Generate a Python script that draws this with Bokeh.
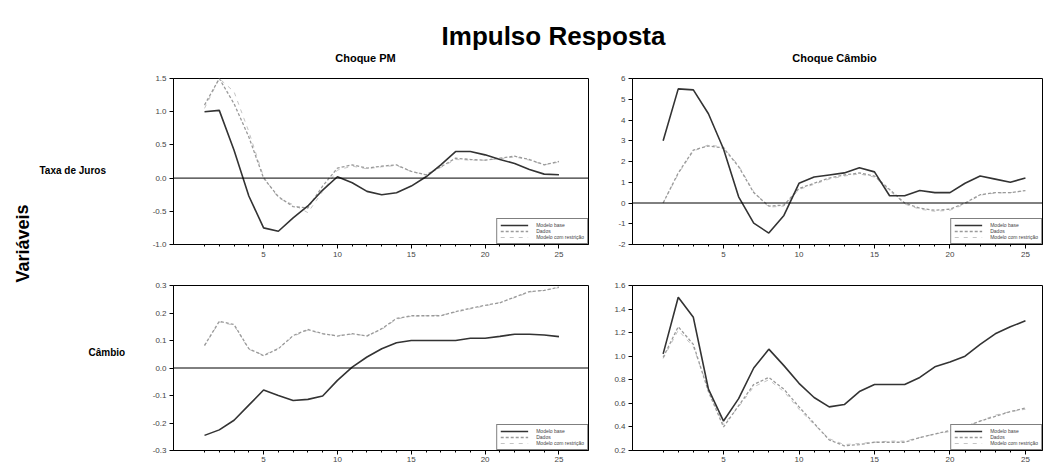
from bokeh.plotting import figure
from bokeh.layouts import row, column
from bokeh.models import Range1d, FixedTicker, PrintfTickFormatter, Span
from bokeh.embed import file_html
from bokeh.resources import INLINE
from bokeh.core.properties import value
import math

# ---------------- data ----------------
periods = list(range(1, 26))
series_labels = ["Modelo base", "Dados", "Modelo com restrição"]
main_title = "Impulso Resposta"
col_titles = ["Choque PM", "Choque Câmbio"]
row_titles = ["Taxa de Juros", "Câmbio"]
side_title = "Variáveis"

juros_pm_s1 = [1.00, 1.02, 0.42, -0.27, -0.75, -0.80, -0.60, -0.42, -0.18, 0.02, -0.07, -0.20, -0.25,
               -0.22, -0.12, 0.02, 0.20, 0.40, 0.40, 0.35, 0.28, 0.22, 0.13, 0.06, 0.05]
juros_pm_s2 = [1.10, 1.50, 1.12, 0.62, 0.00, -0.28, -0.43, -0.45, -0.12, 0.15, 0.20, 0.15, 0.18,
               0.20, 0.10, 0.05, 0.17, 0.30, 0.28, 0.27, 0.30, 0.33, 0.28, 0.20, 0.25]
juros_pm_s3 = [1.05, 1.50, 1.30, 0.70, 0.02, -0.30, -0.40, -0.52, -0.20, 0.12, 0.18, 0.14, 0.17,
               0.19, 0.10, 0.05, 0.16, 0.28, 0.27, 0.27, 0.29, 0.32, 0.27, 0.20, 0.24]

juros_cb_s1 = [3.0, 5.5, 5.45, 4.3, 2.6, 0.3, -0.97, -1.45, -0.6, 0.95, 1.25, 1.35, 1.45,
               1.7, 1.5, 0.35, 0.35, 0.6, 0.5, 0.5, 0.95, 1.3, 1.15, 1.0, 1.2]
juros_cb_s2 = [0.0, 1.45, 2.55, 2.75, 2.65, 1.75, 0.5, -0.15, -0.1, 0.7, 0.95, 1.2, 1.35,
               1.45, 1.3, 0.65, 0.0, -0.25, -0.35, -0.3, 0.0, 0.4, 0.5, 0.5, 0.6]
juros_cb_s3 = [0.0, 1.4, 2.5, 2.8, 2.7, 1.8, 0.55, -0.2, -0.15, 0.65, 0.9, 1.15, 1.3,
               1.4, 1.25, 0.6, -0.05, -0.3, -0.4, -0.35, -0.05, 0.38, 0.48, 0.5, 0.58]

cambio_pm_s1 = [-0.245, -0.225, -0.19, -0.135, -0.08, -0.10, -0.118, -0.114, -0.102, -0.045, 0.003, 0.04, 0.07,
                0.092, 0.10, 0.10, 0.10, 0.10, 0.108, 0.108, 0.115, 0.123, 0.123, 0.12, 0.114]
cambio_pm_s2 = [0.082, 0.17, 0.158, 0.07, 0.045, 0.07, 0.118, 0.14, 0.125, 0.116, 0.125, 0.116, 0.143,
                0.18, 0.19, 0.19, 0.19, 0.205, 0.217, 0.228, 0.237, 0.258, 0.278, 0.282, 0.294]
cambio_pm_s3 = [0.080, 0.168, 0.155, 0.068, 0.047, 0.072, 0.115, 0.138, 0.124, 0.118, 0.123, 0.118, 0.140,
                0.178, 0.188, 0.19, 0.192, 0.203, 0.215, 0.226, 0.238, 0.256, 0.276, 0.283, 0.292]

cambio_cb_s1 = [1.02, 1.5, 1.33, 0.72, 0.45, 0.64, 0.9, 1.06, 0.92, 0.77, 0.65, 0.57, 0.59,
                0.70, 0.76, 0.76, 0.76, 0.82, 0.91, 0.95, 1.0, 1.1, 1.19, 1.25, 1.3]
cambio_cb_s2 = [0.99, 1.25, 1.1, 0.7, 0.4, 0.58, 0.76, 0.82, 0.72, 0.57, 0.43, 0.29, 0.24,
                0.25, 0.27, 0.27, 0.27, 0.31, 0.34, 0.37, 0.4, 0.45, 0.49, 0.53, 0.56]
cambio_cb_s3 = [0.98, 1.22, 1.08, 0.72, 0.42, 0.57, 0.74, 0.80, 0.70, 0.55, 0.42, 0.30, 0.25,
                0.26, 0.27, 0.28, 0.28, 0.31, 0.34, 0.36, 0.40, 0.45, 0.50, 0.53, 0.55]

yticks_juros_pm = [-1.0, -0.5, 0.0, 0.5, 1.0, 1.5]
yticks_juros_cb = [-2, -1, 0, 1, 2, 3, 4, 5, 6]
yticks_cambio_pm = [-0.3, -0.2, -0.1, 0.0, 0.1, 0.2, 0.3]
yticks_cambio_cb = [0.2, 0.4, 0.6, 0.8, 1.0, 1.2, 1.4, 1.6]
xticks_major = [5, 10, 15, 20, 25]

FONT = "Liberation Sans"

# ---------------- header ----------------
HH = 70
hdr = figure(width=1043, height=HH, x_range=Range1d(0, 1043), y_range=Range1d(0, HH),
             toolbar_location=None, output_backend="svg", title=None,
             x_axis_type=None, y_axis_type=None, min_border=0)
hdr.grid.visible = False
hdr.outline_line_color = None
hdr.text(x=[553], y=[HH - 35], text=[main_title], text_font=value(FONT), text_font_style="bold",
         text_font_size="26px", text_align="center", text_baseline="middle", text_color="black")
hdr.text(x=[365, 834], y=[HH - 57, HH - 57], text=col_titles, text_font=value(FONT), text_font_style="bold",
         text_font_size="11px", text_align="center", text_baseline="middle", text_color="black")

# ---------------- left strip ----------------
SH = 467 - HH
strip = figure(width=140, height=SH, x_range=Range1d(0, 140), y_range=Range1d(0, SH),
               toolbar_location=None, output_backend="svg", title=None,
               x_axis_type=None, y_axis_type=None, min_border=0)
strip.grid.visible = False
strip.outline_line_color = None
strip.text(x=[22], y=[SH - (243 - HH)], text=[side_title], angle=[math.pi / 2], text_font=value(FONT),
           text_font_style="bold", text_font_size="18px", text_align="center", text_baseline="middle")
strip.text(x=[39, 88], y=[SH - (170 - HH), SH - (352 - HH)], text=row_titles, text_font=value(FONT),
           text_font_style="bold", text_font_size="10px", text_align="left", text_baseline="middle")


def panel(w, h, xr, yr, yticks, fmt, s1, s2, s3, bl, br, bt, bb, zero=True):
    p = figure(width=w, height=h, x_range=Range1d(*xr), y_range=Range1d(*yr),
               toolbar_location=None, output_backend="svg", title=None,
               min_border_left=bl, min_border_right=br, min_border_top=bt, min_border_bottom=bb)
    p.grid.visible = False
    p.outline_line_color = "black"
    p.outline_line_width = 1
    p.background_fill_color = "white"
    p.border_fill_color = "white"
    if zero:
        p.add_layout(Span(location=0, dimension="width", line_color="black", line_width=1))
    p.line(periods, s3, line_color="#c4c4c4", line_width=1, line_dash="4 5", legend_label=series_labels[2])
    p.line(periods, s2, line_color="#9a9a9a", line_width=1.3, line_dash="3 2", legend_label=series_labels[1])
    p.line(periods, s1, line_color="#333333", line_width=1.6, legend_label=series_labels[0])
    lg = p.legend[0]
    lg.items = [lg.items[2], lg.items[1], lg.items[0]]
    lg.location = "bottom_right"
    lg.margin = 0
    lg.padding = 3
    lg.spacing = 0
    lg.label_text_font_size = "5px"
    lg.label_text_font = FONT
    lg.label_height = 6
    lg.glyph_height = 6
    lg.glyph_width = 28
    lg.label_standoff = 8
    lg.border_line_color = "black"
    lg.border_line_width = 1.5
    lg.background_fill_alpha = 1

    p.xaxis.ticker = FixedTicker(ticks=xticks_major, minor_ticks=periods)
    p.yaxis.ticker = FixedTicker(ticks=yticks, minor_ticks=[])
    p.yaxis.formatter = PrintfTickFormatter(format=fmt)
    for ax in (p.xaxis[0], p.yaxis[0]):
        ax.axis_line_color = "black"
        ax.axis_line_width = 1
        ax.major_tick_line_color = "black"
        ax.minor_tick_line_color = "black"
        ax.major_tick_in = 0
        ax.minor_tick_in = 0
        ax.major_tick_out = 4
        ax.minor_tick_out = 2
        ax.major_label_text_font = FONT
        ax.major_label_text_font_size = "8px"
        ax.major_label_text_color = "#444444"
        ax.major_label_standoff = 3
    return p


XL = (-1.1, 27.0)
XR = (-1.03, 26.13)
tl = panel(470, 198, XL, (-1.0, 1.5), yticks_juros_pm, "%.1f", juros_pm_s1, juros_pm_s2, juros_pm_s3, 33, 22, 8, 24)
tr = panel(433, 198, XR, (-2, 6), yticks_juros_cb, "%d", juros_cb_s1, juros_cb_s2, juros_cb_s3, 22, 1, 8, 24)
bl = panel(470, 199, XL, (-0.3, 0.3), yticks_cambio_pm, "%.1f", cambio_pm_s1, cambio_pm_s2, cambio_pm_s3, 33, 22, 17, 17)
br = panel(433, 199, XR, (0.2, 1.6), yticks_cambio_cb, "%.1f", cambio_cb_s1, cambio_cb_s2, cambio_cb_s3, 22, 1, 17, 17, zero=False)
for p in (bl, br):
    p.xaxis.major_label_standoff = 2

layout = column(hdr, row(strip, column(row(tl, tr), row(bl, br))))

open("out.html", "w").write(file_html(layout, INLINE))
